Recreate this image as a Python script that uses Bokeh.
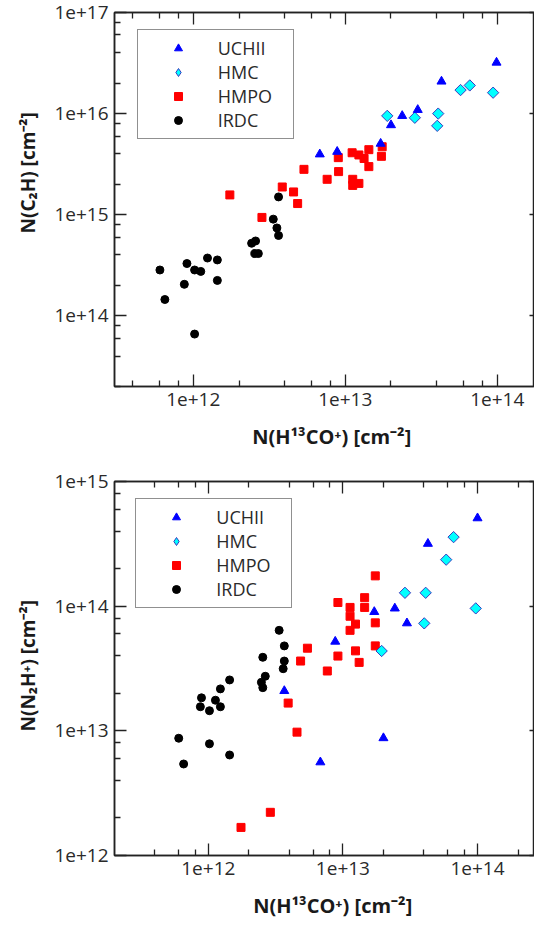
import math
from bokeh.plotting import figure
from bokeh.layouts import column
from bokeh.models import (FixedTicker, LogAxis, Legend, LegendItem, Title, Range1d)
from bokeh.embed import file_html
from bokeh.resources import INLINE

# ---------------- data ----------------
series_names = ["UCHII", "HMC", "HMPO", "IRDC"]

# Top panel: N(C2H) vs N(H13CO+)
uchii_x_top = [6.8e12, 8.85e12, 1.71e13, 2.0e13, 2.37e13, 3.0e13, 4.3e13, 9.9e13]
uchii_y_top = [3.96e15, 4.2e15, 5.05e15, 7.7e15, 9.5e15, 1.09e16, 2.08e16, 3.2e16]

hmc_x_top = [1.89e13, 2.87e13, 4.09e13, 4.03e13, 5.74e13, 6.6e13, 9.4e13]
hmc_y_top = [9.5e15, 9.1e15, 1.0e16, 7.57e15, 1.71e16, 1.9e16, 1.61e16]

hmpo_x_top = [1.74e12, 2.83e12, 3.85e12, 4.57e12, 4.86e12, 5.35e12, 7.6e12, 9.0e12,
              9.04e12, 1.11e13, 1.12e13, 1.12e13, 1.23e13, 1.23e13, 1.33e13, 1.43e13,
              1.43e13, 1.73e13, 1.75e13]
hmpo_y_top = [1.57e15, 9.4e14, 1.88e15, 1.68e15, 1.29e15, 2.81e15, 2.24e15, 3.67e15,
              2.67e15, 4.1e15, 2.24e15, 1.95e15, 3.9e15, 2.04e15, 3.6e15, 4.4e15,
              2.99e15, 3.78e15, 4.7e15]

irdc_x_top = [6.03e11, 6.5e11, 8.73e11, 9.08e11, 1.02e12, 1.02e12, 1.12e12, 1.24e12,
              1.44e12, 1.44e12, 2.42e12, 2.54e12, 2.57e12, 2.68e12, 3.36e12, 3.55e12,
              3.64e12, 3.64e12]
irdc_y_top = [2.84e14, 1.45e14, 2.05e14, 3.29e14, 2.84e14, 6.6e13, 2.75e14, 3.73e14,
              3.57e14, 2.24e14, 5.22e14, 4.13e14, 5.5e14, 4.13e14, 9.04e14, 7.4e14,
              6.23e14, 1.5e15]

# Bottom panel: N(N2H+) vs N(H13CO+)
uchii_x_bot = [3.67e12, 6.8e12, 8.77e12, 1.71e13, 2.0e13, 2.43e13, 2.99e13, 4.28e13, 1.0e14]
uchii_y_bot = [2.09e13, 5.6e12, 5.2e13, 9.0e13, 8.75e12, 9.6e13, 7.3e13, 3.17e14, 5.08e14]

hmc_x_bot = [1.94e13, 2.89e13, 4.02e13, 4.12e13, 5.85e13, 6.64e13, 9.7e13]
hmc_y_bot = [4.37e13, 1.28e14, 7.28e13, 1.28e14, 2.36e14, 3.58e14, 9.6e13]

hmpo_x_bot = [1.75e12, 2.89e12, 3.92e12, 4.56e12, 4.85e12, 5.45e12, 7.66e12, 9.18e12,
              9.18e12, 1.13e13, 1.13e13, 1.13e13, 1.24e13, 1.24e13, 1.32e13, 1.45e13,
              1.45e13, 1.74e13, 1.74e13, 1.74e13]
hmpo_y_bot = [1.68e12, 2.22e12, 1.67e13, 9.76e12, 3.63e13, 4.6e13, 3.02e13, 1.07e14,
              3.98e13, 9.77e13, 8.3e13, 6.4e13, 7.18e13, 4.38e13, 3.54e13, 1.17e14,
              9.77e13, 1.75e14, 7.35e13, 4.8e13]

irdc_x_bot = [6.03e11, 6.56e11, 8.73e11, 8.9e11, 1.02e12, 1.02e12, 1.13e12, 1.23e12,
              1.23e12, 1.44e12, 1.44e12, 2.48e12, 2.54e12, 2.54e12, 2.65e12, 3.36e12,
              3.6e12, 3.67e12, 3.67e12]
irdc_y_bot = [8.72e12, 5.42e12, 1.56e13, 1.84e13, 1.45e13, 7.87e12, 1.76e13, 2.17e13,
              1.56e13, 2.56e13, 6.4e12, 2.45e13, 3.89e13, 2.22e13, 2.74e13, 6.4e13,
              3.15e13, 4.8e13, 3.63e13]

x_major_ticks = [1e11, 1e12, 1e13, 1e14, 1e15]
y_major_top = [1e13, 1e14, 1e15, 1e16, 1e17]
y_major_bot = [1e12, 1e13, 1e14, 1e15]
minor_mults = [2, 4, 6, 8]

x_label = "N(H\u00b9\u00b3CO\u207a) [cm\u207b\u00b2]"
y_label_top = "N(C\u2082H) [cm\u207b\u00b2]"
y_label_bot = "N(N\u2082H\u207a) [cm\u207b\u00b2]"

FONT = "Open Sans"
TXT = "#2a2a2a"


def minors(majors):
    return [m * k for m in majors for k in minor_mults]


def fmt(v):
    return "1e+%d" % int(round(math.log10(v)))


def style_axis(ax, majors, show_labels=True, minor=True, tick_in=12):
    ax.ticker = FixedTicker(ticks=majors, minor_ticks=minors(majors) if minor else [])
    ax.major_tick_in = tick_in
    ax.major_tick_out = 0
    ax.minor_tick_in = 6 if minor else 0
    ax.minor_tick_out = 0
    ax.major_tick_line_color = "#222222"
    ax.minor_tick_line_color = "#222222" if minor else None
    ax.major_tick_line_width = 1.3
    ax.minor_tick_line_width = 1.3
    ax.axis_line_color = "#222222"
    ax.axis_line_width = 1.5
    if show_labels:
        ax.major_label_overrides = {v: fmt(v) for v in majors}
        ax.major_label_text_font = FONT
        ax.major_label_text_font_size = "19px"
        ax.major_label_text_color = TXT
        ax.major_label_standoff = 6
    else:
        ax.major_label_overrides = {v: "" for v in majors}
        ax.major_label_text_font_size = "0px"
        ax.major_label_standoff = 0


def make_panel(xr, yr, ymaj, left, top, bottom, data, ylabel,
               xlab_offset, xlab_standoff, ylab_offset, ylab_standoff, leg_pos):
    p = figure(width=534, height=465, x_axis_type="log", y_axis_type="log",
               x_range=Range1d(*xr), y_range=Range1d(*yr),
               output_backend="svg", toolbar_location=None,
               min_border_left=left, min_border_right=0,
               min_border_top=top, min_border_bottom=bottom)
    p.xgrid.visible = False
    p.ygrid.visible = False
    p.outline_line_color = "#222222"
    p.outline_line_width = 1.5
    p.background_fill_color = "white"
    p.border_fill_color = "white"

    style_axis(p.xaxis[0], x_major_ticks)
    style_axis(p.yaxis[0], ymaj)
    ax_top = LogAxis()
    style_axis(ax_top, x_major_ticks, show_labels=False)
    p.add_layout(ax_top, "above")
    ax_right = LogAxis()
    style_axis(ax_right, ymaj, show_labels=False, minor=False, tick_in=5)
    p.add_layout(ax_right, "right")

    (ux, uy), (cx, cy), (px_, py_), (ix, iy) = data
    r_i = p.scatter(ix, iy, marker="circle", size=8, fill_color="black", line_color="black")
    r_p = p.scatter(px_, py_, marker="square", size=8, fill_color="#ff0000", line_color="#ff0000")
    # narrow diamond drawn underneath the rotated squares; it is the legend glyph
    r_c_leg = p.scatter(cx, cy, marker="diamond", size=8,
                        fill_color="#00ffff", line_color="#3a3ac0", line_width=1)
    r_c = p.scatter(cx, cy, marker="square", angle=math.pi / 4, size=8,
                    fill_color="#00ffff", line_color="#3a3ac0", line_width=1)
    r_u = p.scatter(ux, uy, marker="triangle", size=9, fill_color="#0000ff", line_color="#0000ff")

    legend = Legend(items=[LegendItem(label=series_names[0], renderers=[r_u]),
                           LegendItem(label=series_names[1], renderers=[r_c_leg]),
                           LegendItem(label=series_names[2], renderers=[r_p]),
                           LegendItem(label=series_names[3], renderers=[r_i])],
                    location=leg_pos, margin=0, padding=6, spacing=0,
                    glyph_width=68, glyph_height=20, label_height=20,
                    label_standoff=6, label_width=69,
                    label_text_font=FONT, label_text_font_size="18px", label_text_color=TXT,
                    border_line_color="#222222", border_line_width=1.5,
                    background_fill_alpha=1.0)
    p.add_layout(legend)

    p.add_layout(Title(text=x_label, align="left", offset=xlab_offset,
                       standoff=xlab_standoff, text_font=FONT, text_font_size="20px",
                       text_font_style="bold", text_color="#1a1a1a"), "below")
    p.add_layout(Title(text=ylabel, align="left", offset=ylab_offset,
                       standoff=ylab_standoff, text_font=FONT, text_font_size="19px",
                       text_font_style="bold", text_color="#1a1a1a"), "left")
    return p


p1 = make_panel((3.03e11, 1.76e14), (2.0e13, 1e17), y_major_top, 114, 12, 79,
                [(uchii_x_top, uchii_y_top), (hmc_x_top, hmc_y_top),
                 (hmpo_x_top, hmpo_y_top), (irdc_x_top, irdc_y_top)],
                y_label_top, 137.7, 24, 153, 22, (22.7, 246.7))
p2 = make_panel((2.01e11, 2.65e14), (1e12, 1e15), y_major_bot, 113, 16, 74,
                [(uchii_x_bot, uchii_y_bot), (hmc_x_bot, hmc_y_bot),
                 (hmpo_x_bot, hmpo_y_bot), (irdc_x_bot, irdc_y_bot)],
                y_label_bot, 138.7, 24, 124, 22, (21.3, 246.7))

layout = column(p1, p2, spacing=0)
open("out.html", "w").write(file_html(layout, INLINE))
